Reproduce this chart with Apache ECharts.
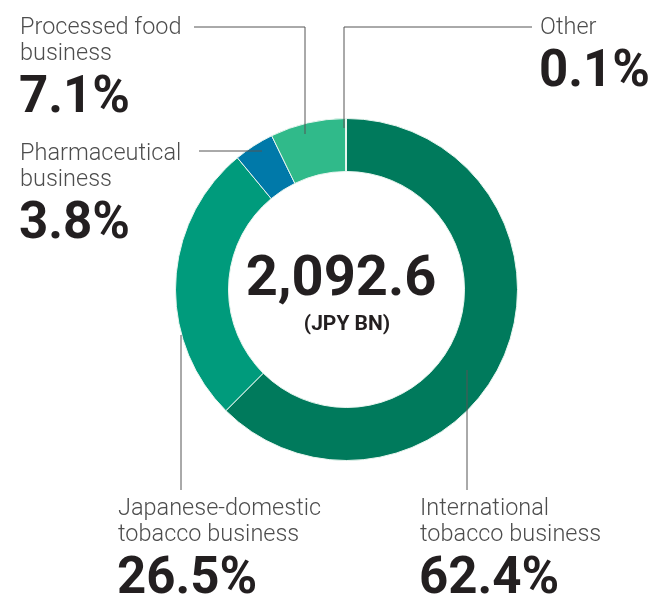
<!DOCTYPE html>
<html>
<head>
<meta charset="utf-8">
<script src="https://cdn.jsdelivr.net/npm/echarts@6/dist/echarts.min.js"></script>
<style>
  html, body { margin: 0; padding: 0; background: #fff; }
  #main { width: 651px; height: 596px; }
</style>
</head>
<body>
<div id="main"></div>
<script>
// segments, clockwise from 12 o'clock
var segments = ['International\ntobacco business', 'Japanese-domestic\ntobacco business', 'Pharmaceutical\nbusiness', 'Processed food\nbusiness', 'Other'];
var shares = [62.4, 26.5, 3.8, 7.1, 0.1];
var colors = ['#007a5c', '#009b7c', '#0079a9', '#30ba8a', '#cfeee0'];
var total = '2,092.6';
var unit = '(JPY BN)';

// label placement (name top-left corner, leader line points)
var labelPos = [
    { x: 420, y: 495, line: [[467, 370], [467, 490]] },
    { x: 118, y: 495, line: [[181, 335], [181, 490]] },
    { x: 20, y: 140, line: [[199, 151], [262, 151]] },
    { x: 20, y: 14, line: [[194, 27], [305, 27], [305, 134]] },
    { x: 540, y: 14, line: [[532, 27], [344, 27], [344, 128]] }
];

var graphics = [];
for (var i = 0; i < segments.length; i++) {
    var p = labelPos[i];
    var nLines = segments[i].split('\n').length;
    graphics.push({
        type: 'text', left: p.x, top: p.y,
        style: { text: segments[i], fill: '#4d4d4d', font: '300 23.5px "Roboto Light", Roboto', lineHeight: 26 }
    });
    graphics.push({
        type: 'text', left: p.x - 1, top: p.y + nLines * 26 + 8,
        style: { text: shares[i].toFixed(1) + '%', fill: '#231f20', font: 'bold 51px Roboto' }
    });
    graphics.push({
        type: 'polyline', shape: { points: p.line },
        style: { stroke: '#555', lineWidth: 1, fill: null }, z: 100
    });
}
graphics.push({
    type: 'text', x: 341, y: 281,
    style: { text: total, fill: '#231f20', font: 'bold 56px Roboto', align: 'center', verticalAlign: 'middle' }
});
graphics.push({
    type: 'text', x: 347, y: 325,
    style: { text: unit, fill: '#231f20', font: 'bold 21px Roboto', align: 'center', verticalAlign: 'middle' }
});

var data = [];
for (var j = 0; j < segments.length; j++) {
    data.push({ name: segments[j], value: shares[j], itemStyle: { color: colors[j] } });
}

var myChart = echarts.init(document.getElementById('main'));
myChart.setOption({
    animation: false,
    series: [{
        type: 'pie',
        center: [346.5, 289.5],
        radius: [118, 171],
        startAngle: 90,
        clockwise: true,
        avoidLabelOverlap: false,
        label: { show: false },
        labelLine: { show: false },
        itemStyle: { borderColor: '#e8f5ef', borderWidth: 1 },
        emphasis: { disabled: true },
        data: data
    }],
    graphic: graphics
});
</script>
</body>
</html>
